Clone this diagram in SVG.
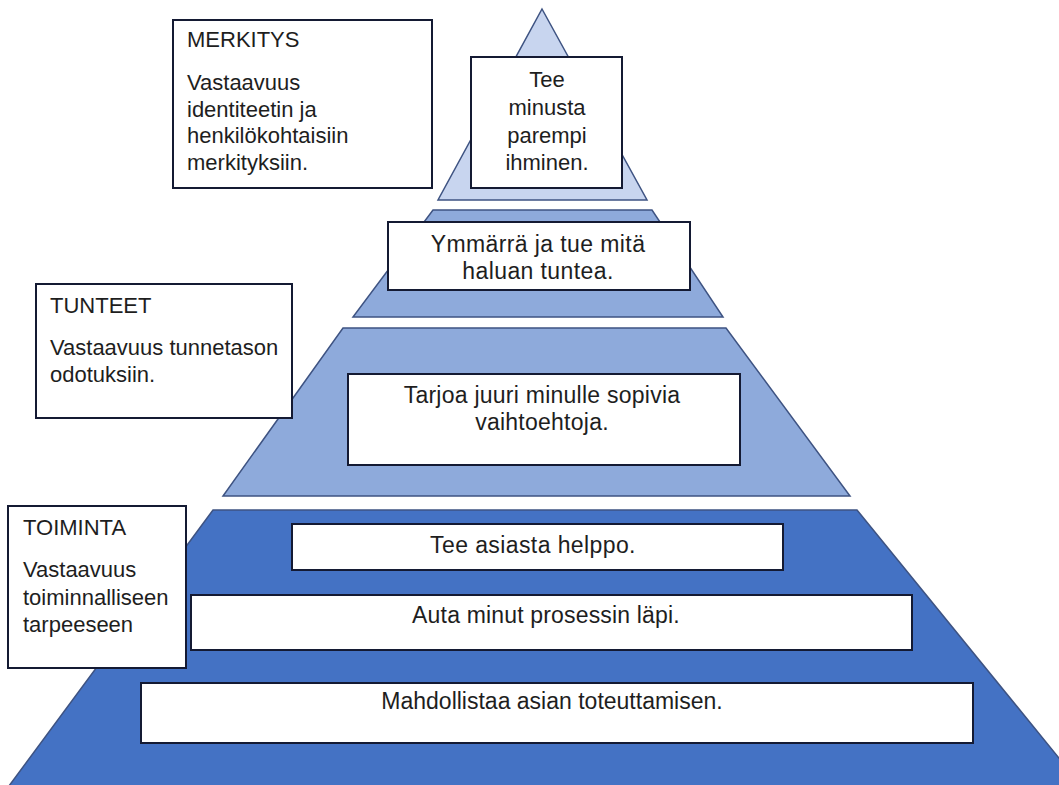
<svg xmlns="http://www.w3.org/2000/svg" width="1059" height="785" viewBox="0 0 1059 785">
<style>
.bg{fill:#ffffff}
.lvl{stroke:#3e5382;stroke-width:1.5;stroke-linejoin:miter}
.l1{fill:#c8d5ef}
.l2{fill:#8eaadb}
.l4{fill:#4472c4}
.box{fill:#ffffff;stroke:#141a33;stroke-width:2}
text{font-family:"Liberation Sans",Arial,sans-serif;font-size:22px;fill:#1e1e1e}
.c{text-anchor:middle}
.m{font-size:23px}
</style>
<rect class="bg" x="0" y="0" width="1059" height="785"/>
<g id="pyramid">
<polygon id="level-top" class="lvl l1" points="542,9 647,200 438,200"/>
<polygon id="level-2" class="lvl l2" points="433,210 652,210 723,317 353,317"/>
<polygon id="level-3" class="lvl l2" points="343,328 726,328 850,496 223,496"/>
<polygon id="level-4" class="lvl l4" points="213,510 857,510 1085,790 6,790"/>
</g>
<g id="merkitys">
<rect class="box" x="173" y="20" width="259" height="168"/>
<text x="187" y="47">MERKITYS</text>
<text x="187" y="90">Vastaavuus</text>
<text x="187" y="117">identiteetin ja</text>
<text x="187" y="143">henkilökohtaisiin</text>
<text x="187" y="170">merkityksiin.</text>
</g>
<g id="tee-minusta">
<rect class="box" x="471" y="57" width="151" height="131"/>
<text class="c" x="547" y="87">Tee</text>
<text class="c" x="547" y="115">minusta</text>
<text class="c" x="547" y="143">parempi</text>
<text class="c" x="547" y="170">ihminen.</text>
</g>
<g id="ymmarra">
<rect class="box" x="388" y="222" width="302" height="68"/>
<text class="c m" x="538" y="252" letter-spacing="0.4">Ymmärrä ja tue mitä</text>
<text class="c m" x="538" y="279" letter-spacing="0.4">haluan tuntea.</text>
</g>
<g id="tunteet">
<rect class="box" x="36" y="284" width="256" height="134"/>
<text x="50" y="313">TUNTEET</text>
<text x="50" y="355">Vastaavuus tunnetason</text>
<text x="50" y="382">odotuksiin.</text>
</g>
<g id="tarjoa">
<rect class="box" x="348" y="374" width="392" height="91"/>
<text class="c m" x="542" y="403" letter-spacing="0.25">Tarjoa juuri minulle sopivia</text>
<text class="c m" x="542" y="430" letter-spacing="0.25">vaihtoehtoja.</text>
</g>
<g id="toiminta">
<rect class="box" x="8" y="506" width="178" height="162"/>
<text x="23" y="535">TOIMINTA</text>
<text x="23" y="577">Vastaavuus</text>
<text x="23" y="605">toiminnalliseen</text>
<text x="23" y="632">tarpeeseen</text>
</g>
<g id="tee-asiasta">
<rect class="box" x="292" y="524" width="491" height="46"/>
<text class="c m" x="533" y="553" letter-spacing="0.4">Tee asiasta helppo.</text>
</g>
<g id="auta">
<rect class="box" x="191" y="595" width="721" height="55"/>
<text class="c m" x="546" y="623" letter-spacing="0.17">Auta minut prosessin läpi.</text>
</g>
<g id="mahdollistaa">
<rect class="box" x="141" y="683" width="832" height="60"/>
<text class="c m" x="552" y="709">Mahdollistaa asian toteuttamisen.</text>
</g>
<g id="connectors"></g>
</svg>
